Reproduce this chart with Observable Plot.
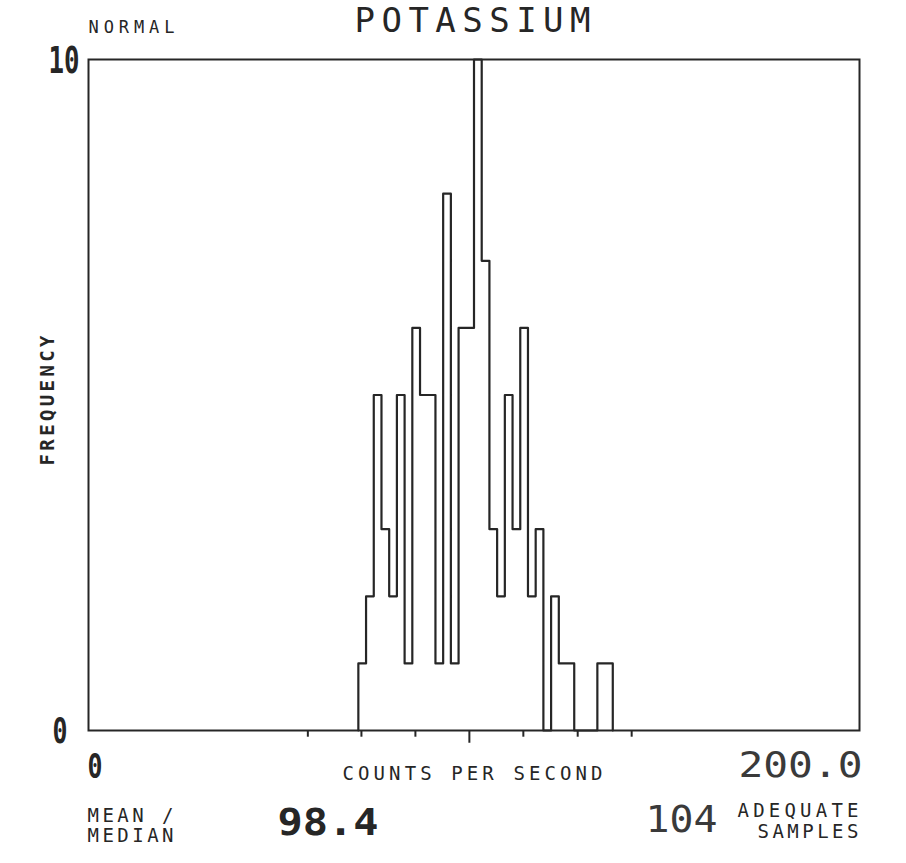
<!DOCTYPE html>
<html>
<head>
<meta charset="utf-8">
<script src="https://cdn.jsdelivr.net/npm/d3@7"></script>
<script src="https://cdn.jsdelivr.net/npm/@observablehq/plot@0.6"></script>
<style>
  html, body { margin: 0; padding: 0; background: #ffffff; }
</style>
</head>
<body>
<div id="chart"></div>
<script>
// ---- data ----
const binEdges = [70, 72, 74, 76, 78, 80, 82, 84, 86, 88, 90, 92, 94, 96, 98, 100, 102,
                  104, 106, 108, 110, 112, 114, 116, 118, 120, 122, 124, 126, 128, 130, 132, 134, 136];
const counts   = [1, 2, 5, 3, 2, 5, 1, 6, 5, 5, 1, 8, 1, 6, 6, 10, 7,
                  3, 2, 5, 3, 6, 2, 3, 0, 2, 1, 1, 0, 0, 0, 1, 1];
const sdTicks  = [56.9, 70.8, 84.8, 112.8, 126.9, 140.9];
const meanTick = [98.8];
const xDomain  = [0, 200];
const yDomain  = [0, 10];
const titleText = ["POTASSIUM"];
const modeText  = ["NORMAL"];
const yTickLabels = ["10", "0"];
const xTickLabels = ["0", "200.0"];
const xAxisLabel  = ["COUNTS PER SECOND"];
const yAxisLabel  = ["FREQUENCY"];
const meanLabel   = ["MEAN /", "MEDIAN"];
const meanValue   = ["98.4"];
const sampleCount = ["104"];
const sampleLabel = ["ADEQUATE", "SAMPLES"];

// step outline points built from bins
const steps = [{x: binEdges[0], y: 0}]
  .concat(counts.map((c, i) => ({x: binEdges[i], y: c})))
  .concat([{x: binEdges[binEdges.length - 1], y: 0}]);

const ink = "#262626";
const FONT = "DejaVu Sans Mono";

function label(data, i, dx, dy, opts = {}) {
  return Plot.text([data[i]], Object.assign({
    text: d => d,
    frameAnchor: "top-left",
    dx, dy,
    textAnchor: "start",
    lineAnchor: "middle",
    fill: ink,
    fontFamily: FONT
  }, opts));
}

// frame: left 88, top 59
const svg = Plot.plot({
  width: 906,
  height: 863,
  marginLeft: 88,
  marginRight: 47,
  marginTop: 59,
  marginBottom: 133,
  x: {domain: xDomain, axis: null},
  y: {domain: yDomain, axis: null},
  style: {background: "#ffffff", fontFamily: FONT, overflow: "visible"},
  marks: [
    Plot.frame({stroke: ink, strokeWidth: 2}),
    Plot.line(steps, {x: "x", y: "y", curve: "step-after", stroke: ink, strokeWidth: 2.2}),
    Plot.ruleX(sdTicks, {x: d => d, y1: 0, y2: -0.1, stroke: ink, strokeWidth: 2}),
    Plot.ruleX(meanTick, {x: d => d, y1: 0, y2: -0.19, stroke: ink, strokeWidth: 2}),

    label(titleText, 0, 266, -38, {fontSize: 34}),
    label(modeText, 0, 0, -32, {fontSize: 17}),
    label(yTickLabels, 0, -40, 1, {fontSize: 38, fontWeight: "bold"}),
    label(yTickLabels, 1, -36, 672, {fontSize: 36, fontWeight: "bold"}),
    label(xTickLabels, 0, -1, 708, {fontSize: 34, fontWeight: "bold"}),
    label(xTickLabels, 1, 650, 706, {fontSize: 36, fill: "#3a3a3a"}),
    label(xAxisLabel, 0, 254, 714, {fontSize: 19}),
    label(meanLabel, 0, -1, 756, {fontSize: 19}),
    label(meanLabel, 1, -1, 776, {fontSize: 19}),
    label(meanValue, 0, 189, 764, {fontSize: 37, fontWeight: "bold"}),
    label(sampleCount, 0, 557, 760, {fontSize: 38, fill: "#3a3a3a"}),
    label(sampleLabel, 0, 649, 751, {fontSize: 19}),
    label(sampleLabel, 1, 669, 772, {fontSize: 19}),
    label(yAxisLabel, 0, -41, 341, {fontSize: 19, fontWeight: "bold", rotate: -90, textAnchor: "middle"})
  ]
});

// fit the plotter-style lettering widths
const fit = {
  "POTASSIUM": [236, "spacing"],
  "NORMAL": [86, "spacing"],
  "10": [31, "spacingAndGlyphs"],
  "0": [15, "spacingAndGlyphs"],
  "200.0": [124, "spacingAndGlyphs"],
  "COUNTS PER SECOND": [260, "spacing"],
  "MEAN /": [86, "spacing"],
  "MEDIAN": [86, "spacing"],
  "98.4": [101, "spacingAndGlyphs"],
  "104": [72, "spacingAndGlyphs"],
  "ADEQUATE": [121, "spacing"],
  "SAMPLES": [101, "spacing"],
  "FREQUENCY": [130, "spacing"]
};
d3.select(svg).selectAll("text").each(function () {
  const f = fit[this.textContent];
  if (f) {
    this.setAttribute("textLength", f[0]);
    this.setAttribute("lengthAdjust", f[1]);
  }
});

document.getElementById("chart").appendChild(svg);
</script>
</body>
</html>
